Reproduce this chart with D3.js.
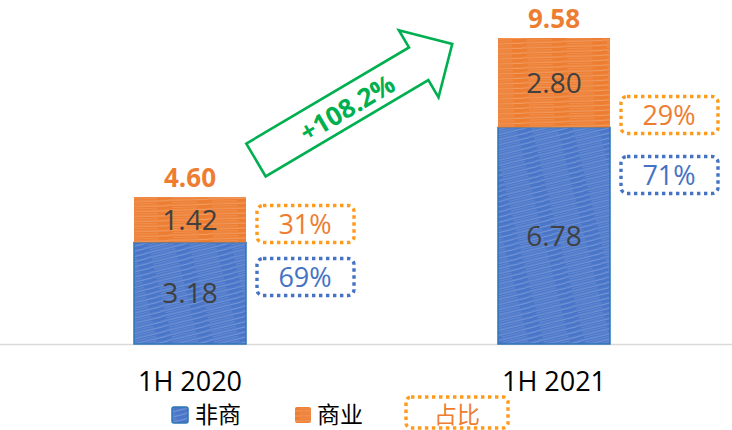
<!DOCTYPE html>
<html><head><meta charset="utf-8">
<script src="https://cdn.jsdelivr.net/npm/d3@7"></script>
<style>body{margin:0;background:#fff}svg{display:block}text{font-family:"Open Sans","Noto Sans","Noto Sans CJK SC",sans-serif}</style>
</head><body><svg id="c" width="732" height="430"></svg>
<script>
const categories = ["1H 2020", "1H 2021"];
const nonCommercial = [3.18, 6.78];
const commercial = [1.42, 2.80];
const totals = [4.60, 9.58];
const shareCommercial = ["31%", "29%"];
const shareNonCommercial = ["69%", "71%"];
const growthLabel = "+108.2%";
const legendLabels = ["非商", "商业", "占比"];

const svg = d3.select("#c");
const BLUE = "#4A76C9", ORANGE = "#ED7D31", GREEN = "#00B050", BOXOR = "#FF9A1A", PCTBLUE = "#4472C4";
const defs = svg.append("defs");
function pattern(id, base, angle) {
  const p = defs.append("pattern").attr("id", id).attr("patternUnits", "userSpaceOnUse")
    .attr("width", 40).attr("height", 5).attr("patternTransform", `rotate(${angle})`);
  p.append("rect").attr("width", 40).attr("height", 5).attr("fill", base);
  p.append("line").attr("x1", 0).attr("y1", 1).attr("x2", 40).attr("y2", 1.4).attr("stroke", "#fff").attr("stroke-opacity", 0.35).attr("stroke-width", 0.8);
  p.append("line").attr("x1", 5).attr("y1", 3.5).attr("x2", 30).attr("y2", 3.8).attr("stroke", "#fff").attr("stroke-opacity", 0.22).attr("stroke-width", 0.7);
}
pattern("pb", BLUE, -14);
pattern("po", ORANGE, -2);

const y = d3.scaleLinear().domain([0, 9.58]).range([344, 38]);
const x = d3.scalePoint().domain(categories).range([190, 554]);
const bw = 112;

svg.append("line").attr("x1", 0).attr("x2", 732).attr("y1", y(0) + 0.5).attr("y2", y(0) + 0.5)
  .attr("stroke", "#D9D9D9").attr("stroke-width", 1.5);

const g = svg.append("g");
categories.forEach((c, i) => {
  const cx = x(c);
  const b0 = y(0), b1 = y(nonCommercial[i]), b2 = y(nonCommercial[i] + commercial[i]);
  g.append("rect").attr("x", cx - bw / 2).attr("y", b1).attr("width", bw).attr("height", b0 - b1)
    .attr("fill", "url(#pb)").attr("stroke", "#2E75B6").attr("stroke-width", 1.5);
  g.append("rect").attr("x", cx - bw / 2).attr("y", b2).attr("width", bw).attr("height", b1 - b2)
    .attr("fill", "url(#po)");
  g.append("text").attr("x", cx).attr("y", (b0 + b1) / 2 + 10).attr("text-anchor", "middle")
    .attr("font-size", 28).attr("fill", "#404040").text(nonCommercial[i].toFixed(2));
  g.append("text").attr("x", cx).attr("y", (b1 + b2) / 2 + 10).attr("text-anchor", "middle")
    .attr("font-size", 28).attr("fill", "#404040").text(commercial[i].toFixed(2));
  g.append("text").attr("x", cx).attr("y", b2 - 10).attr("text-anchor", "middle")
    .attr("font-size", 26).attr("font-weight", "bold").attr("fill", ORANGE).text(totals[i].toFixed(2));
  g.append("text").attr("x", cx).attr("y", 391).attr("text-anchor", "middle")
    .attr("font-size", 27).attr("fill", "#000").text(c);
});

const boxCentersOrange = [224, 115], boxCentersBlue = [277, 175];
function dottedBox(x0, yc, w, h, color) {
  svg.append("rect").attr("x", x0).attr("y", yc - h / 2).attr("width", w).attr("height", h)
    .attr("rx", 6).attr("fill", "none").attr("stroke", color).attr("stroke-width", 3.4)
    .attr("stroke-dasharray", "3.4 3.6");
}
categories.forEach((c, i) => {
  const bx = x(c) + bw / 2 + 11;
  dottedBox(bx, boxCentersOrange[i], 97, 37, BOXOR);
  svg.append("text").attr("x", bx + 48).attr("y", boxCentersOrange[i] + 10).attr("text-anchor", "middle")
    .attr("font-size", 27).attr("fill", ORANGE).text(shareCommercial[i]);
  dottedBox(bx, boxCentersBlue[i], 97, 37, PCTBLUE);
  svg.append("text").attr("x", bx + 48).attr("y", boxCentersBlue[i] + 10).attr("text-anchor", "middle")
    .attr("font-size", 27).attr("fill", PCTBLUE).text(shareNonCommercial[i]);
});

// growth arrow
const ax = 256, ay = 160, ang = -30.6;
const arrowPts = [[0, -19], [189, -19], [189, -39], [228, 0], [189, 39], [189, 19], [0, 19]];
const ag = svg.append("g").attr("transform", `translate(${ax},${ay}) rotate(${ang})`);
ag.append("polygon").attr("points", arrowPts.map(p => p.join(",")).join(" "))
  .attr("fill", "#fff").attr("stroke", GREEN).attr("stroke-width", 2.6).attr("stroke-linejoin", "miter");
ag.append("text").attr("x", 105).attr("y", 11).attr("text-anchor", "middle")
  .attr("font-size", 26).attr("font-weight", "bold").attr("fill", GREEN).text(growthLabel);

// legend
const lg = svg.append("g");
lg.append("rect").attr("x", 172).attr("y", 407).attr("width", 16).attr("height", 16).attr("rx", 2).attr("fill", "url(#pb)").attr("stroke", "#2E75B6").attr("stroke-width", 1.5);
lg.append("text").attr("x", 195).attr("y", 423).attr("font-size", 23).attr("fill", "#000").text(legendLabels[0]);
lg.append("rect").attr("x", 295).attr("y", 407).attr("width", 16).attr("height", 16).attr("rx", 2).attr("fill", "url(#po)");
lg.append("text").attr("x", 317).attr("y", 423).attr("font-size", 23).attr("fill", "#000").text(legendLabels[1]);
svg.append("rect").attr("x", 406).attr("y", 397).attr("width", 102).attr("height", 31).attr("rx", 5)
  .attr("fill", "none").attr("stroke", BOXOR).attr("stroke-width", 3.4).attr("stroke-dasharray", "3.4 3.6");
lg.append("text").attr("x", 457).attr("y", 423).attr("text-anchor", "middle").attr("font-size", 23).attr("fill", ORANGE).text(legendLabels[2]);
</script></body></html>
